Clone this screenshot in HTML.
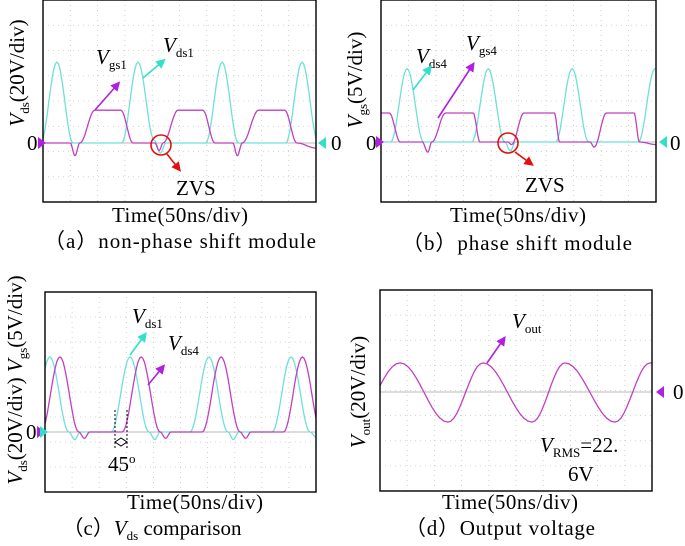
<!DOCTYPE html>
<html><head><meta charset="utf-8"><style>
html,body{margin:0;padding:0;background:#fff}
svg{display:block;font-family:"Liberation Serif",serif}
</style></head><body>
<svg id="fig" width="685" height="546" viewBox="0 0 685 546" xmlns="http://www.w3.org/2000/svg">
<defs>
<marker id="am" markerWidth="6" markerHeight="6" refX="3" refY="3" orient="auto" markerUnits="strokeWidth"><path d="M0,0 L6,3 L0,6 z" fill="#b020e0"/></marker>
<marker id="ac" markerWidth="6" markerHeight="6" refX="3" refY="3" orient="auto" markerUnits="strokeWidth"><path d="M0,0 L6,3 L0,6 z" fill="#30e0c8"/></marker>
<marker id="ar" markerWidth="6" markerHeight="6" refX="3" refY="3" orient="auto" markerUnits="strokeWidth"><path d="M0,0 L6,3 L0,6 z" fill="#e01010"/></marker>
</defs>
<g id="plots"></g>
<g id="labels" font-size="21">
 <!-- panel a -->
 <text x="180" y="222" text-anchor="middle" textLength="136">Time(50ns/div)</text>
 <text x="180" y="248" text-anchor="middle" font-size="21" textLength="272">（a）non-phase shift module</text>
 <text transform="translate(24,73) rotate(-90)" text-anchor="middle"><tspan font-style="italic">V</tspan><tspan font-size="13" dy="5">ds</tspan><tspan dy="-5">(20V/div)</tspan></text>
 <text x="27" y="150">0</text>
 <text x="331" y="150">0</text>
 <text x="96" y="64"><tspan font-style="italic">V</tspan><tspan font-size="13" dy="5">gs1</tspan></text>
 <text x="163" y="52"><tspan font-style="italic">V</tspan><tspan font-size="13" dy="5">ds1</tspan></text>
 <text x="176" y="195">ZVS</text>
 <!-- panel b -->
 <text x="518" y="222" text-anchor="middle" textLength="136">Time(50ns/div)</text>
 <text x="517" y="250" text-anchor="middle" font-size="21" textLength="230">（b）phase shift module</text>
 <text transform="translate(362,80) rotate(-90)" text-anchor="middle"><tspan font-style="italic">V</tspan><tspan font-size="13" dy="5">gs</tspan><tspan dy="-5">(5V/div)</tspan></text>
 <text x="366" y="150">0</text>
 <text x="670" y="150">0</text>
 <text x="416" y="63"><tspan font-style="italic">V</tspan><tspan font-size="13" dy="5">ds4</tspan></text>
 <text x="466" y="50"><tspan font-style="italic">V</tspan><tspan font-size="13" dy="5">gs4</tspan></text>
 <text x="525" y="192">ZVS</text>
 <!-- panel c -->
 <text x="195" y="509" text-anchor="middle" textLength="136">Time(50ns/div)</text>
 <text x="152" y="535" text-anchor="middle" font-size="21">（c）<tspan font-style="italic">V</tspan><tspan font-size="13" dy="5">ds</tspan><tspan dy="-5"> comparison</tspan></text>
 <text transform="translate(22,380) rotate(-90)" text-anchor="middle"><tspan font-style="italic">V</tspan><tspan font-size="13" dy="5">ds</tspan><tspan dy="-5">(20V/div) </tspan><tspan font-style="italic">V</tspan><tspan font-size="13" dy="5">gs</tspan><tspan dy="-5">(5V/div)</tspan></text>
 <text x="26" y="439">0</text>
 <text x="132" y="323"><tspan font-style="italic">V</tspan><tspan font-size="13" dy="5">ds1</tspan></text>
 <text x="168" y="350"><tspan font-style="italic">V</tspan><tspan font-size="13" dy="5">ds4</tspan></text>
 <text x="108" y="471">45<tspan font-size="13" dy="-8">o</tspan></text>
 <!-- panel d -->
 <text x="510" y="509" text-anchor="middle" textLength="136">Time(50ns/div)</text>
 <text x="500" y="535" text-anchor="middle" font-size="21" textLength="190">（d）Output voltage</text>
 <text transform="translate(365,392) rotate(-90)" text-anchor="middle"><tspan font-style="italic">V</tspan><tspan font-size="13" dy="5">out</tspan><tspan dy="-5">(20V/div)</tspan></text>
 <text x="673" y="399">0</text>
 <text x="512" y="328"><tspan font-style="italic">V</tspan><tspan font-size="13" dy="5">out</tspan></text>
 <text x="540" y="452"><tspan font-style="italic">V</tspan><tspan font-size="13" dy="5">RMS</tspan><tspan dy="-5">=22.</tspan></text>
 <text x="568" y="481">6V</text>
</g>
<g id="annot" fill="none" stroke-width="1.6">
 <line x1="95" y1="110" x2="117" y2="85" stroke="#b020e0" marker-end="url(#am)"/>
 <line x1="143" y1="78" x2="162" y2="62" stroke="#30e0c8" marker-end="url(#ac)"/>
 <circle cx="161" cy="145" r="10" stroke="#e01010"/>
 <line x1="167" y1="154" x2="178" y2="168" stroke="#e01010" marker-end="url(#ar)"/>
 <line x1="413" y1="90" x2="429" y2="69" stroke="#30e0c8" marker-end="url(#ac)"/>
 <line x1="438" y1="118" x2="472" y2="66" stroke="#b020e0" marker-end="url(#am)"/>
 <circle cx="508" cy="143" r="10" stroke="#e01010"/>
 <line x1="515" y1="152" x2="530" y2="163" stroke="#e01010" marker-end="url(#ar)"/>
 <line x1="130" y1="355" x2="144" y2="336" stroke="#30e0c8" marker-end="url(#ac)"/>
 <line x1="148" y1="385" x2="162" y2="368" stroke="#b020e0" marker-end="url(#am)"/>
 <line x1="115" y1="410" x2="115" y2="450" stroke="#000" stroke-width="1" stroke-dasharray="2,2"/>
 <line x1="127" y1="410" x2="127" y2="450" stroke="#000" stroke-width="1" stroke-dasharray="2,2"/>
 <path d="M115,442 L121,438 L127,442 L121,446 Z" stroke="#000" stroke-width="1"/>
 <line x1="487" y1="363" x2="503" y2="340" stroke="#b020e0" marker-end="url(#am)"/>
</g>
</svg>
<script>
// Panel a
const aCyanT=[-0.09,0.51,1.1,2.88,3.48,4.08,4.3,4.5,5.96,6.56,7.16,8.89,9.49,10.09];
const aCyanV=[0,3.2,0,0,3.2,0.1,-0.4,0,0,3.2,0,0,3.2,0];
const aMagT=[0,1.0,1.17,1.35,1.9,2.85,3.3,4.1,4.25,4.4,4.95,5.85,6.3,6.95,7.12,7.3,7.9,8.85,9.3,10];
const aMagV=[0,0,-0.5,0,1.3,1.3,0,0,-0.3,0,1.3,1.3,0,0,-0.5,0,1.3,1.3,0,-0.2];
// Panel b
const bCyanT=[0,0.35,0.95,1.55,3.3,3.9,4.5,4.7,4.9,6.35,6.95,7.55,9.36,9.96,10.6];
const bCyanV=[0,0,2.9,0,0,2.9,0,-0.35,0,0,2.9,0,0,2.9,0];
const bMagT=[0,0.3,0.7,1.5,1.7,1.85,2.35,3.35,3.6,4.6,4.75,5.2,6.3,6.5,7.6,7.75,8.2,9.2,9.4,10];
const bMagV=[1.15,1.15,0,0,-0.4,0,1.15,1.15,0,0,-0.1,1.15,1.15,0,0,-0.2,1.15,1.15,0,-0.1];
// Panel c
const cCyanT=[-0.52,0.18,0.88,1.1,1.3,2.44,3.14,3.84,4.05,4.25,5.35,6.05,6.75,6.95,7.15,8.38,9.08,9.78,10];
const cCyanV=[0,3,0,-0.3,0,0,3,0,-0.3,0,0,3,0,-0.3,0,0,3,0,-0.2];
const cMagT=[-0.15,0.55,1.25,1.45,1.65,2.85,3.55,4.25,4.45,4.65,5.8,6.5,7.2,7.4,7.6,8.8,9.5,10.2];
const cMagV=[0,3,0,-0.25,0,0,3,0,-0.25,0,0,3,0,-0.25,0,0,3,0];
// Panel d
const dOutT=[-1.0,0.74,2.5,3.79,5.59,6.8,8.64,9.93,11.7];
const dOutV=[-1.2,1.16,-1.2,1.16,-1.2,1.16,-1.2,1.16,-1.2];

const NS='http://www.w3.org/2000/svg';
const root=document.getElementById('plots');
const panels=[
 {id:'a',x:43,y:0,w:273,h:202,zero:143,series:[[aCyanT,aCyanV,'#6fe0d6'],[aMagT,aMagV,'#c040c0']]},
 {id:'b',x:381,y:0,w:275,h:202,zero:142,series:[[bCyanT,bCyanV,'#6fe0d6'],[bMagT,bMagV,'#c040c0']]},
 {id:'c',x:45,y:292,w:271,h:200,zero:432,series:[[cCyanT,cCyanV,'#6fe0d6'],[cMagT,cMagV,'#c040c0']]},
 {id:'d',x:380,y:290,w:272,h:201,zero:392,series:[[dOutT,dOutV,'#c040c0']]}
];
function mk(tag,attrs){const e=document.createElementNS(NS,tag);for(const k in attrs)e.setAttribute(k,attrs[k]);return e;}
panels.forEach(p=>{
 const g=mk('g',{});
 
 
 root.appendChild(g);
 const dx=p.w/10, dy=p.h/8;
 const xs=t=>p.x+t*dx, ys=v=>p.zero-v*dy;
 for(let i=1;i<10;i++){const l=mk('line',{x1:xs(i),x2:xs(i),y1:p.y,y2:p.y+p.h,stroke:'#c8c8c8','stroke-width':0.8,'stroke-dasharray':'1,4'});
  g.appendChild(l);}
 for(let j=1;j<8;j++){const l=mk('line',{x1:p.x,x2:p.x+p.w,y1:p.y+j*dy,y2:p.y+j*dy,stroke:'#c8c8c8','stroke-width':0.8,'stroke-dasharray':'1,4'});
  g.appendChild(l);}
 const zl=mk('line',{x1:p.x,x2:p.x+p.w,y1:ys(0),y2:ys(0),stroke:'#b8b8b8','stroke-width':1});
 g.appendChild(zl);
 const cp=mk('clipPath',{id:'clip'+p.id});cp.appendChild(mk('rect',{x:p.x,y:p.y,width:p.w,height:p.h}));g.appendChild(cp);
 p.series.forEach(([T,V,col],si)=>{
  let d='';
  for(let i=0;i<T.length-1;i++){
   const n=12;
   for(let k=0;k<=n;k++){if(i>0&&k==0)continue;
    const f=k/n, s=(1-Math.cos(Math.PI*f))/2;
    const t=T[i]+(T[i+1]-T[i])*f, v=V[i]+(V[i+1]-V[i])*s;
    d+=(d?'L':'M')+xs(t).toFixed(1)+','+ys(v).toFixed(1);}
  }
  const path=mk('path',{d:d,fill:'none',stroke:col,'stroke-width':1.3,'clip-path':'url(#clip'+p.id+')'});
  
  
  g.appendChild(path);
 });
 const fr=mk('rect',{x:p.x,y:p.y,width:p.w,height:p.h,fill:'none',stroke:'#000','stroke-width':1.4});
 g.appendChild(fr);
});
function tri(x,y,dir,col,name){
 const d=dir>0?`M${x},${y-6} L${x+8},${y} L${x},${y+6}Z`:`M${x},${y-6} L${x-8},${y} L${x},${y+6}Z`;
 const e=mk('path',{d:d,fill:col});
 
 
 root.appendChild(e);
}
tri(38,143,1,'#b020e0','zero-marker-a-left');
tri(326,143,-1,'#30e0c8','zero-marker-a-right');
tri(376,142,1,'#b020e0','zero-marker-b-left');
tri(667,142,-1,'#30e0c8','zero-marker-b-right');
tri(37,432,1,'#b020e0','zero-marker-c-mag');
tri(40,432,1,'#30e0c8','zero-marker-c-cyan');
tri(664,392,-1,'#b020e0','zero-marker-d');
</script>
</body></html>
